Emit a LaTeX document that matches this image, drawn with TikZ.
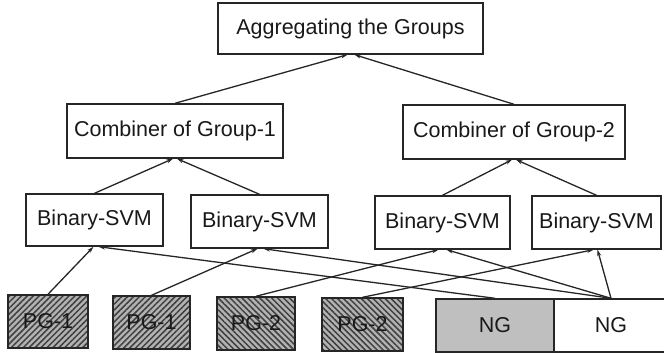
\documentclass[tikz,border=0pt]{standalone}
\usepackage{fontspec}
\setmainfont{Liberation Sans}
\usetikzlibrary{arrows.meta,patterns.meta}
\begin{document}
\begin{tikzpicture}[x=1pt,y=-1pt,
  box/.style={draw=black!85, line width=1.4pt, inner sep=0pt,
    font=\fontsize{21.5}{25}\selectfont, text=black!90},
  hatchA/.style={preaction={fill=gray!60},
    pattern={Lines[angle=45,distance=4.2pt,line width=1.5pt]}, pattern color=black!75},
  hatchB/.style={preaction={fill=gray!60},
    pattern={Lines[angle=-45,distance=4.2pt,line width=1.5pt]}, pattern color=black!75},
  conn/.style={draw=black!85, line width=1.3pt, -{Stealth[length=6.5pt,width=4pt]}}
]
\useasboundingbox (0,0) rectangle (664,353);
\fill[white] (0,0) rectangle (664,353);

% top
\node[box, minimum width=265pt, minimum height=51pt] (agg) at (350.5,28.5) {Aggregating the Groups};

% combiners
\node[box, minimum width=216pt, minimum height=54pt] (comb1) at (175,131) {Combiner of Group-1};
\node[box, minimum width=222pt, minimum height=54pt] (comb2) at (514,132) {Combiner of Group-2};

% binary SVMs
\node[box, minimum width=137pt, minimum height=52pt] (svm1) at (94.5,220) {Binary-SVM};
\node[box, minimum width=137pt, minimum height=53pt] (svm2) at (259.5,221.5) {Binary-SVM};
\node[box, minimum width=135pt, minimum height=53pt] (svm3) at (442.5,222.5) {Binary-SVM};
\node[box, minimum width=129pt, minimum height=53pt] (svm4) at (596.5,222.5) {Binary-SVM};

% data groups
\node[box, hatchA, minimum width=80pt, minimum height=53pt] (pg1a) at (48,321.5) {PG-1};
\node[box, hatchA, minimum width=77pt, minimum height=53pt] (pg1b) at (151.5,322.5) {PG-1};
\node[box, hatchB, minimum width=78pt, minimum height=53pt] (pg2a) at (256,323.5) {PG-2};
\node[box, hatchB, minimum width=81pt, minimum height=53pt] (pg2b) at (362.5,324.5) {PG-2};
\node[box, fill=gray!50, minimum width=118pt, minimum height=53pt] (ngg) at (495,325.5) {NG};
\node[box, fill=white, minimum width=114pt, minimum height=53pt] (ngw) at (611,325.5) {NG};

% connectors
\draw[conn] (comb1.north) -- ([xshift=-3pt]agg.south);
\draw[conn] (comb2.north) -- ([xshift=4pt]agg.south);
\draw[conn] (svm1.north) -- ([xshift=-2pt]comb1.south);
\draw[conn] (svm2.north) -- ([xshift=2pt]comb1.south);
\draw[conn] (svm3.north) -- ([xshift=-2pt]comb2.south);
\draw[conn] (svm4.north) -- ([xshift=2pt]comb2.south);
\draw[conn] (pg1a.north) -- ([xshift=-1pt]svm1.south);
\draw[conn] (ngg.north) -- ([xshift=4pt]svm1.south);
\draw[conn] (pg1b.north) -- ([xshift=-2pt]svm2.south);
\draw[conn] (ngw.north) -- ([xshift=4pt]svm2.south);
\draw[conn] (pg2a.north) -- ([xshift=-4pt]svm3.south);
\draw[conn] (ngw.north) -- ([xshift=4pt]svm3.south);
\draw[conn] (pg2b.north) -- ([xshift=-3pt]svm4.south);
\draw[conn] (ngw.north) -- ([xshift=1pt]svm4.south);
\end{tikzpicture}
\end{document}
